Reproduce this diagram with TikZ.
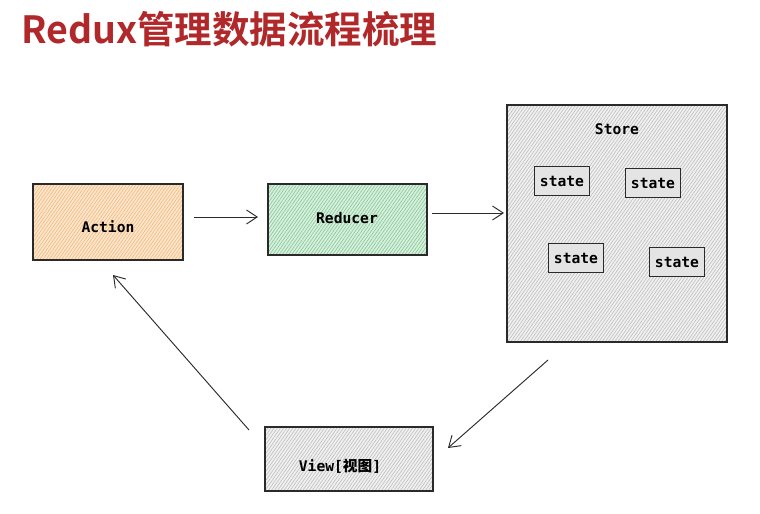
\documentclass[tikz,border=0pt]{standalone}
\usepackage{fontspec}
\usepackage{xcolor}
\usepackage{tikz}
\usetikzlibrary{positioning,arrows.meta,patterns.meta}
\setmonofont{DejaVu Sans Mono}
\newfontfamily\cjk{Noto Sans CJK SC}
\newfontfamily\cjkbold{Noto Sans CJK SC Bold}
\definecolor{rxred}{HTML}{B0282A}
\definecolor{rxorange}{HTML}{F5B97A}
\definecolor{rxgreen}{HTML}{8FD3A0}
\definecolor{rxgrey}{HTML}{E4E4E4}
\definecolor{rxline}{HTML}{2A2A2A}

\begin{document}
\begin{tikzpicture}[x=0.03cm,y=-0.03cm,font=\ttfamily\bfseries\fontsize{12.5}{14}\selectfont,
  hatch/.style={pattern={Lines[angle=55,distance=2.2pt,line width=0.55pt]},pattern color=#1},
  st/.style={draw=rxline,line width=0.9pt,fill=rxgrey,minimum width=1.65cm,minimum height=0.85cm,inner sep=1pt},
  flow/.style={-{Straight Barb[length=3.2mm,width=4.2mm]},line width=0.8pt,draw=rxline}]
\useasboundingbox (0,0) rectangle (760,514);

\node[anchor=west,text=rxred,font=\cjkbold\fontsize{32}{36}\selectfont,inner sep=0pt] (T) at (21,29) {Redux管理数据流程梳理};

% boxes
\fill[rxorange!35] (33,184) rectangle (183,260);
\fill[hatch=rxorange] (33,184) rectangle (183,260);
\draw[draw=rxline,line width=0.9pt] (33,184) rectangle (183,260);
\node (A) at (108,227) {Action};

\fill[rxgreen!35] (268,184) rectangle (427,255);
\fill[hatch=rxgreen!95!black] (268,184) rectangle (427,255);
\draw[draw=rxline,line width=0.9pt] (268,184) rectangle (427,255);
\node (R) at (347,218) {Reducer};

\fill[rxgrey!50] (507,105) rectangle (727,342);
\fill[hatch=gray!50] (507,105) rectangle (727,342);
\draw[draw=rxline,line width=0.9pt] (507,105) rectangle (727,342);
\node (S) at (617,129) {Store};

\node[st] (s1) at (562,181) {state};
\node[st] (s2) at (653,183) {state};
\node[st] (s3) at (576,258) {state};
\node[st] (s4) at (677,262) {state};

\fill[rxgrey!50] (265,427) rectangle (433,491);
\fill[hatch=gray!50] (265,427) rectangle (433,491);
\draw[draw=rxline,line width=0.9pt] (265,427) rectangle (433,491);
\node (V) at (340,466) {View[{\cjkbold 视图}]};

% connectors
\coordinate (a1) at (194,217);
\coordinate (r0) at (258,217);
\coordinate (r1) at (432,213);
\coordinate (s0) at (504,213);
\coordinate (s5) at (548,360);
\coordinate (v0) at (448,448);
\coordinate (v1) at (249,430);
\coordinate (a0) at (113,275);
\draw[flow] (a1) -- (r0);
\draw[flow] (r1) -- (s0);
\draw[flow] (s5) -- (v0);
\draw[flow] (v1) -- (a0);
\end{tikzpicture}
\end{document}
